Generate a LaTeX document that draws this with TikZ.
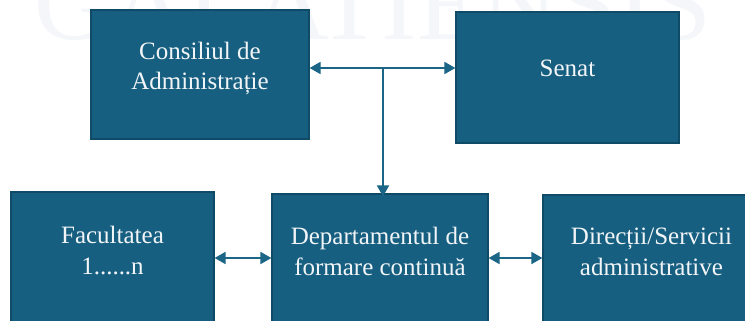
\documentclass[tikz,border=0pt]{standalone}
\usepackage{fontspec}
\setmainfont{Liberation Serif}
\usetikzlibrary{arrows.meta}
\definecolor{boxfill}{HTML}{175F80}
\definecolor{boxline}{HTML}{0F4A66}
\definecolor{arrowc}{HTML}{1B6586}
\definecolor{txt}{HTML}{F2F5F7}
\definecolor{wmc}{HTML}{F5F6F9}
\begin{document}
\begin{tikzpicture}[x=1pt,y=-1pt,
  orgbox/.style={draw=boxline, line width=1.2pt, fill=boxfill, inner sep=0pt},
  lbl/.style={text=txt, font=\fontsize{25}{31}\selectfont, align=center, anchor=base, inner sep=0pt},
  link/.style={draw=arrowc, line width=1.8pt, {Triangle[length=11pt,width=12pt]}-{Triangle[length=11pt,width=12pt]}},
  tolink/.style={draw=arrowc, line width=1.8pt, -{Triangle[length=11pt,width=12pt]}}]
\useasboundingbox (0,0) rectangle (745,321);
\clip (0,0) rectangle (745,321);
\fill[white] (0,0) rectangle (745,321);
\node[text=wmc, font=\fontsize{106}{106}\selectfont, anchor=base, inner sep=0pt] (wm) at (373,40) {GALATIENSIS};
% boxes
\node[orgbox, minimum width=218pt, minimum height=129pt] (cons) at (200,74.5) {};
\node[orgbox, minimum width=223pt, minimum height=131pt] (senat) at (567.5,77.5) {};
\node[orgbox, minimum width=203pt, minimum height=143pt] (fac) at (112.5,263.5) {};
\node[orgbox, minimum width=216pt, minimum height=143pt] (dept) at (380,265.5) {};
\node[orgbox, minimum width=217pt, minimum height=143pt] (dir) at (651.5,266.5) {};
% labels (base anchor = baseline of the last line)
\node[lbl] (consl) at (200,90) {Consiliul de\\Administrație};
\node[lbl] (senatl) at (567.5,77) {Senat};
\node[lbl] (facl) at (112.5,274) {Facultatea\\1......n};
\node[lbl] (deptl) at (380,275) {Departamentul de\\formare continuă};
\node[lbl] (dirl) at (651.5,275) {Direcții/Servicii\\administrative};
% connectors
\coordinate (j) at (383,68);
\coordinate (m) at (0,258);
\draw[link] (cons.east |- j) -- (senat.west |- j);
\draw[tolink] (j) -- ([yshift=-3pt]dept.north -| j);
\draw[link] (fac.east |- m) -- (dept.west |- m);
\draw[link] (dept.east |- m) -- (dir.west |- m);
\end{tikzpicture}
\end{document}
